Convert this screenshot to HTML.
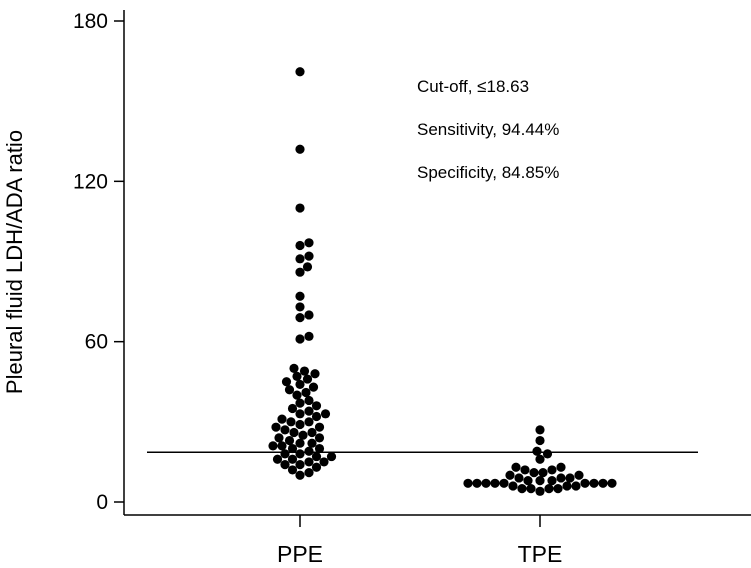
<!DOCTYPE html>
<html><head><meta charset="utf-8"><style>
body{margin:0;background:#fff}
svg{display:block;font-family:"Liberation Sans",Arial,sans-serif}
</style></head><body>
<svg id="c" width="751" height="568">
<g>
<line x1="124" y1="10" x2="124" y2="515" stroke="#000" stroke-width="1.5"/>
</g>
<g>
<line x1="124" y1="515" x2="751" y2="515" stroke="#000" stroke-width="1.5"/>
</g>
<text transform="translate(22,262) rotate(-90)" text-anchor="middle" font-size="22">Pleural fluid LDH/ADA ratio</text>
<text x="417" y="92" font-size="17">Cut-off, ≤18.63</text>
<text x="417" y="135" font-size="17">Sensitivity, 94.44%</text>
<text x="417" y="178" font-size="17">Specificity, 84.85%</text>
</svg>
<script>
const categories = ["PPE", "TPE"];
const yTicks = [0, 60, 120, 180];
const cutoff = 18.63;
const ppeValues = [161,132,110,97,96,92,91,88,86,77,73,70,69,62,61,50,49,48,47,46,45,44,43,42,41,40,38,37,36,35,34,33,33,32,31,30,30,29,28,28,27,26,26,25,24,24,23,22,22,21,21,20,20,19,18,18,17,17,16,16,15,15,14,14,13,12,11,10];
const tpeValues = [27,23,19,18,16,13,13,12,12,11,11,10,10,9,9,9,8,8,8,7,7,7,7,7,7,7,7,7,6,6,6,5,5,5,5,4];
const series = [ppeValues, tpeValues];

const svg = document.getElementById('c');
const NS = 'http://www.w3.org/2000/svg';
const yScale = v => 502 - v * (481 / 180);
const xScale = i => 300 + i * 240;

function mk(tag, attrs){const e=document.createElementNS(NS,tag);for(const k in attrs)e.setAttribute(k,attrs[k]);svg.appendChild(e);return e;}

yTicks.forEach(t=>{
  const y=yScale(t);
  const l=mk('line',{x1:114,y1:y,x2:124,y2:y,stroke:'#000','stroke-width':1.5});
  
  
  const tx=mk('text',{x:108,y:y+7,'text-anchor':'end','font-size':21});
  tx.textContent=t;
  
  
});
categories.forEach((c,i)=>{
  const x=xScale(i);
  const l=mk('line',{x1:x,y1:515,x2:x,y2:527,stroke:'#000','stroke-width':1.5});
  
  
  const tx=mk('text',{x:x,y:562,'text-anchor':'middle','font-size':23});
  tx.textContent=c;
  
  
});
const cl=mk('line',{x1:147,y1:yScale(cutoff),x2:698,y2:yScale(cutoff),stroke:'#000','stroke-width':1.5});



const r=4.6, d=9.4;
series.forEach((vals,i)=>{
  const cx=xScale(i);
  const placed=[];
  [...vals].sort((a,b)=>a-b).forEach(v=>{
    const y=yScale(v);
    let best=0;
    for(let k=0;k<200;k++){
      const off=(k%2?1:-1)*Math.ceil(k/2)*1.5;
      if(placed.every(p=>(p[0]-off)**2+(p[1]-y)**2>=d*d*0.8)){best=off;break;}
    }
    placed.push([best,y]);
    const c=mk('circle',{cx:cx+best,cy:y,r:r,fill:'#000'});
    
    
  });
});
</script>
</body></html>
